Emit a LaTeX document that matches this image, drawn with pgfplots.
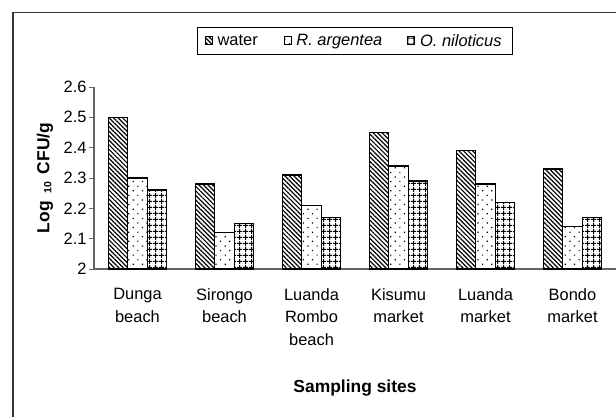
\documentclass[border=0pt]{standalone}
\usepackage{pgfplots}
\pgfplotsset{compat=1.18}
\usetikzlibrary{patterns.meta}
\usepackage{fontspec}
\setmainfont{Liberation Sans}
\newcommand{\basefont}{\fontsize{16.5}{22.5}\selectfont}
\newcommand{\labfont}{\fontsize{17.5}{20}\selectfont\bfseries}
\begin{document}
\begin{tikzpicture}[x=1bp,y=1bp]
\useasboundingbox (0,0) rectangle (616,416);
\clip (0,0) rectangle (616,416);
\draw[line width=1.5bp, black!80] (13,-10) -- (13,403.7) -- (630,403.7);
\begin{axis}[
  at={(94bp,147bp)}, anchor=south west,
  scale only axis, width=522bp, height=182bp,
  xmin=-0.5, xmax=5.5, ymin=2, ymax=2.6,
  axis x line*=bottom, axis y line*=left,
  axis line style={-, black!60, line width=1.1bp},
  font=\basefont,
  /pgf/number format/assume math mode=true,
  ytick={2,2.1,2.2,2.3,2.4,2.5,2.6},
  yticklabels={2,2.1,2.2,2.3,2.4,2.5,2.6},
  tick align=outside, major tick length=5bp,
  tick style={black!60, line width=1bp},
  xtick={0,1,2,3,4,5},
  xticklabels={Dunga\\beach, Sirongo\\beach, Luanda\\Rombo\\beach, Kisumu\\market, Luanda\\market, Bondo\\market},
  xticklabel style={align=center, font=\basefont, yshift=-11bp},
  x tick style={draw=none},
  extra x ticks={0.5,1.5,2.5,3.5,4.5},
  extra x tick labels={},
  extra x tick style={tick style={draw=black!60, line width=1bp}},
  yticklabel style={font=\basefont, xshift=1bp},
  ylabel={Log\, {\fontsize{10.5}{10}\selectfont\raisebox{-0.35ex}{10}}\, CFU/g},
  ylabel style={at={(axis description cs:-0.094,0.5)}, anchor=center, font=\labfont},
  xlabel={Sampling sites},
  xlabel style={at={(axis description cs:0.5,-0.655)}, anchor=center, font=\labfont},
  bar width=0.2241,
  legend columns=3,
  legend style={at={(0.5,1)}, anchor=south, yshift=32bp, draw=black, line width=0.9bp,
    font=\basefont, inner xsep=7bp, inner ysep=5bp},
  legend cell align=left,
  legend image code/.code={\draw[#1, line width=0.8bp] (0bp,-4bp) rectangle (7bp,4bp);},
]
\addplot[ybar, bar shift=-0.2241, draw=black, line width=1.3bp,
  pattern={Lines[angle=-45, distance=3.2bp, line width=1.2bp]}]
  coordinates {(0,2.50) (1,2.28) (2,2.31) (3,2.45) (4,2.39) (5,2.33)};
\addplot[ybar, bar shift=0, draw=black, line width=1.3bp,
  pattern={Dots[angle=45, distance=6.5bp, radius=0.85bp]}]
  coordinates {(0,2.30) (1,2.12) (2,2.21) (3,2.34) (4,2.28) (5,2.14)};
\addplot[ybar, bar shift=0.2241, draw=black, line width=1.3bp,
  pattern={Hatch[distance=6bp, line width=1.1bp]}]
  coordinates {(0,2.26) (1,2.15) (2,2.17) (3,2.29) (4,2.22) (5,2.17)};
\legend{\makebox[67bp][l]{\hspace*{3bp}water}, \makebox[112bp][l]{\hspace*{3bp}\textit{R. argentea}}, \makebox[86bp][l]{\hspace*{3bp}\textit{O. niloticus}}}
\end{axis}
\end{tikzpicture}
\end{document}
